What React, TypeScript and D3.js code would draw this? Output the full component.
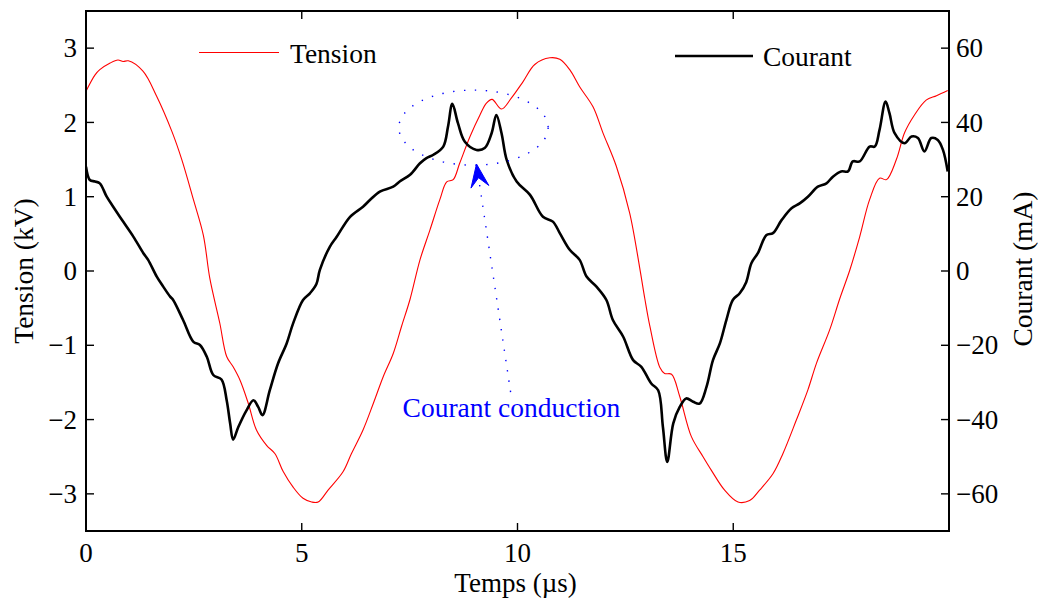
import React from "react";
import * as d3 from "d3";

// ---- Data ----
const tensionT = [0.00, 0.21, 0.32, 0.56, 0.74, 0.86, 0.98, 1.32, 1.64, 1.99, 2.22, 2.49, 2.72, 2.87, 3.10, 3.26, 3.41, 3.57, 3.76, 3.95, 4.19, 4.38, 4.57, 4.80, 5.03, 5.23, 5.38, 5.61, 5.96, 6.15, 6.42, 6.66, 6.89, 7.12, 7.31, 7.51, 7.74, 7.97, 8.20, 8.36, 8.51, 8.66, 8.90, 9.13, 9.28, 9.41, 9.63, 9.86, 10.13, 10.40, 10.75, 10.98, 11.21, 11.44, 11.75, 11.98, 12.29, 12.60, 12.83, 12.95, 13.07, 13.30, 13.41, 13.57, 13.76, 14.03, 14.30, 14.49, 14.80, 15.11, 15.38, 15.61, 15.92, 16.15, 16.46, 16.73, 16.93, 17.23, 17.47, 17.70, 17.93, 18.16, 18.39, 18.55, 18.78, 18.97, 19.20, 19.47, 19.71, 19.97];
const tensionV = [2.42, 2.64, 2.71, 2.80, 2.84, 2.82, 2.83, 2.69, 2.35, 1.88, 1.50, 0.96, 0.48, -0.10, -0.70, -1.15, -1.29, -1.47, -1.78, -2.14, -2.35, -2.46, -2.70, -2.91, -3.06, -3.11, -3.11, -2.95, -2.70, -2.46, -2.14, -1.78, -1.42, -1.11, -0.75, -0.38, 0.15, 0.55, 0.96, 1.20, 1.23, 1.45, 1.81, 2.10, 2.26, 2.31, 2.18, 2.33, 2.55, 2.78, 2.87, 2.85, 2.71, 2.48, 2.21, 1.86, 1.41, 0.78, 0.05, -0.37, -0.75, -1.30, -1.38, -1.39, -1.69, -2.23, -2.50, -2.68, -2.95, -3.11, -3.09, -2.95, -2.73, -2.46, -2.01, -1.60, -1.24, -0.80, -0.37, 0.01, 0.46, 0.96, 1.25, 1.23, 1.50, 1.86, 2.10, 2.30, 2.36, 2.43];

const courantT = [0.00, 0.09, 0.21, 0.32, 0.48, 0.63, 0.86, 1.10, 1.33, 1.44, 1.64, 1.79, 1.95, 2.02, 2.25, 2.49, 2.64, 2.80, 2.95, 3.14, 3.26, 3.34, 3.41, 3.53, 3.72, 3.88, 3.99, 4.09, 4.26, 4.45, 4.65, 4.80, 5.03, 5.19, 5.34, 5.42, 5.65, 5.81, 6.12, 6.42, 6.58, 6.81, 7.12, 7.27, 7.51, 7.74, 7.89, 8.05, 8.28, 8.39, 8.49, 8.62, 8.78, 9.05, 9.24, 9.40, 9.51, 9.63, 9.75, 9.98, 10.29, 10.59, 10.82, 10.98, 11.21, 11.44, 11.60, 11.83, 12.06, 12.21, 12.45, 12.68, 12.87, 13.10, 13.26, 13.37, 13.47, 13.61, 13.76, 13.91, 14.07, 14.22, 14.38, 14.53, 14.69, 14.84, 14.99, 15.15, 15.30, 15.42, 15.57, 15.77, 15.92, 16.12, 16.35, 16.54, 16.73, 16.96, 17.16, 17.31, 17.50, 17.66, 17.77, 17.93, 18.16, 18.28, 18.39, 18.53, 18.62, 18.74, 18.97, 19.13, 19.28, 19.43, 19.59, 19.74, 19.86, 19.97];
const courantV = [28.1, 24.5, 24.1, 23.6, 20.0, 17.3, 13.3, 9.2, 4.8, 3.0, -1.5, -4.2, -6.9, -7.8, -13.2, -19.1, -19.9, -23.1, -28.0, -29.2, -34.8, -41.0, -45.4, -42.0, -37.5, -34.8, -36.6, -38.8, -32.1, -24.9, -19.5, -14.1, -7.8, -6.0, -3.5, 0.3, 6.5, 9.2, 14.6, 17.3, 19.1, 21.4, 22.7, 24.1, 25.9, 29.0, 30.4, 31.3, 33.5, 38.9, 45.0, 39.8, 34.8, 32.6, 33.1, 37.1, 42.0, 37.1, 29.9, 24.1, 20.5, 14.6, 13.3, 10.2, 5.7, 3.0, -1.5, -4.2, -7.8, -13.2, -17.7, -24.0, -25.8, -30.3, -32.1, -42.0, -51.4, -41.0, -36.6, -34.3, -35.2, -35.7, -31.2, -24.0, -19.5, -13.2, -7.8, -6.0, -3.0, 2.1, 4.8, 9.7, 10.2, 13.7, 16.9, 18.2, 20.0, 22.7, 23.6, 25.4, 26.8, 26.8, 29.5, 29.5, 33.5, 33.5, 38.0, 45.6, 42.5, 37.1, 34.4, 36.2, 35.8, 32.2, 35.8, 35.3, 32.6, 26.8];

const xTicks = [0, 5, 10, 15];
const leftTicks = [-3, -2, -1, 0, 1, 2, 3];
const rightTicks = [-60, -40, -20, 0, 20, 40, 60];

// annotation (data coordinates)
const ellipseCenter = [8.98, 1.93];
const ellipseRadii = [1.73, 0.505];
const arrowFrom = [9.84, -1.63];
const arrowTo = [9.05, 1.44];
const annotationPos = [9.86, -1.97];

const W = 1038;
const H = 601;
const M = { left: 86, right: 949, top: 11, bottom: 531 };
const FONT = "'Liberation Serif', 'Times New Roman', serif";

const fmt = (v: number) => (v < 0 ? "\u2212" + Math.abs(v) : String(v));

export default function App() {
  const x = d3.scaleLinear().domain([0, 20]).range([M.left, M.right]);
  const yL = d3.scaleLinear().domain([-3.5, 3.5]).range([M.bottom, M.top]);
  const yR = d3.scaleLinear().domain([-70, 70]).range([M.bottom, M.top]);

  const tensionPts: [number, number][] = tensionT.map((t, i) => [t, tensionV[i]]);
  const courantPts: [number, number][] = courantT.map((t, i) => [t, courantV[i]]);

  const lineL = d3
    .line<[number, number]>()
    .x((d) => x(d[0]))
    .y((d) => yL(d[1]))
    .curve(d3.curveCatmullRom.alpha(0.5));
  const lineR = d3
    .line<[number, number]>()
    .x((d) => x(d[0]))
    .y((d) => yR(d[1]))
    .curve(d3.curveCatmullRom.alpha(0.5));

  const tickLen = 8;
  const fs = 27;

  // arrow geometry
  const ax1 = x(arrowFrom[0]);
  const ay1 = yL(arrowFrom[1]);
  const ax2 = x(arrowTo[0]);
  const ay2 = yL(arrowTo[1]);
  const ang = Math.atan2(ay2 - ay1, ax2 - ax1);
  const hl = 23;
  const hw = 9;
  const ux = Math.cos(ang);
  const uy = Math.sin(ang);
  const px = -uy;
  const py = ux;
  const bx = ax2 - ux * hl;
  const by = ay2 - uy * hl;
  const nx = ax2 - ux * hl * 0.6;
  const ny = ay2 - uy * hl * 0.6;
  const head = `M${ax2},${ay2} L${bx + px * hw},${by + py * hw} L${nx},${ny} L${bx - px * hw},${by - py * hw} Z`;

  return (
    <svg
      width={W}
      height={H}
      style={{ position: "absolute", left: 0, top: 0, background: "#fff" }}
      fontFamily={FONT}
    >
      <defs>
        <clipPath id="plotClip">
          <rect x={M.left} y={M.top} width={M.right - M.left} height={M.bottom - M.top} />
        </clipPath>
      </defs>

      {/* curves */}
      <g clipPath="url(#plotClip)">
        <path d={lineL(tensionPts) || ""} fill="none" stroke="#ff0000" strokeWidth={1.1} />
        <path d={lineR(courantPts) || ""} fill="none" stroke="#000" strokeWidth={2.6} strokeLinejoin="round" />
      </g>

      {/* annotation */}
      <ellipse
        cx={x(ellipseCenter[0])}
        cy={yL(ellipseCenter[1])}
        rx={x(ellipseRadii[0]) - x(0)}
        ry={yL(0) - yL(ellipseRadii[1])}
        fill="none"
        stroke="#0000ff"
        strokeWidth={1.4}
        strokeDasharray="1.4 9.5"
      />
      <line
        x1={ax1}
        y1={ay1}
        x2={bx + ux * 6}
        y2={by + uy * 6}
        stroke="#0000ff"
        strokeWidth={1.4}
        strokeDasharray="1.4 9"
      />
      <path d={head} fill="#0000ff" stroke="#0000ff" strokeWidth={1} />
      <text
        x={x(annotationPos[0])}
        y={yL(annotationPos[1])}
        textAnchor="middle"
        fontSize={27.5}
        fill="#0000ff"
      >
        Courant conduction
      </text>

      {/* box */}
      <rect
        x={M.left}
        y={M.top}
        width={M.right - M.left}
        height={M.bottom - M.top}
        fill="none"
        stroke="#000"
        strokeWidth={2}
      />

      {/* x ticks */}
      {xTicks.map((t) => (
        <g key={"x" + t}>
          <line x1={x(t)} x2={x(t)} y1={M.bottom} y2={M.bottom - tickLen} stroke="#000" strokeWidth={1.4} />
          <line x1={x(t)} x2={x(t)} y1={M.top} y2={M.top + tickLen} stroke="#000" strokeWidth={1.4} />
          <text x={x(t)} y={M.bottom + 31} textAnchor="middle" fontSize={fs} fill="#000">
            {fmt(t)}
          </text>
        </g>
      ))}

      {/* left ticks */}
      {leftTicks.map((v) => (
        <g key={"l" + v}>
          <line x1={M.left} x2={M.left + tickLen} y1={yL(v)} y2={yL(v)} stroke="#000" strokeWidth={1.4} />
          <text x={M.left - 9} y={yL(v)} dy="0.34em" textAnchor="end" fontSize={fs} fill="#000">
            {fmt(v)}
          </text>
        </g>
      ))}

      {/* right ticks */}
      {rightTicks.map((v) => (
        <g key={"r" + v}>
          <line x1={M.right} x2={M.right - tickLen} y1={yR(v)} y2={yR(v)} stroke="#000" strokeWidth={1.4} />
          <text x={M.right + 7} y={yR(v)} dy="0.34em" textAnchor="start" fontSize={fs} fill="#000">
            {fmt(v)}
          </text>
        </g>
      ))}

      {/* axis labels */}
      <text x={(M.left + M.right) / 2 - 2} y={592} textAnchor="middle" fontSize={27} fill="#000">
        Temps (µs)
      </text>
      <text
        transform={`translate(33, ${(M.top + M.bottom) / 2}) rotate(-90)`}
        textAnchor="middle"
        fontSize={27.5}
        fill="#000"
      >
        Tension (kV)
      </text>
      <text
        transform={`translate(1032, ${(M.top + M.bottom) / 2 - 2}) rotate(-90)`}
        textAnchor="middle"
        fontSize={27.5}
        fill="#000"
      >
        Courant (mA)
      </text>

      {/* legends */}
      <line x1={199} x2={279} y1={52.5} y2={52.5} stroke="#ff0000" strokeWidth={1.1} />
      <text x={290} y={63} fontSize={27.5} fill="#000">
        Tension
      </text>
      <line x1={675} x2={753} y1={56} y2={56} stroke="#000" strokeWidth={2.6} />
      <text x={763} y={65.5} fontSize={27.5} fill="#000">
        Courant
      </text>
    </svg>
  );
}
